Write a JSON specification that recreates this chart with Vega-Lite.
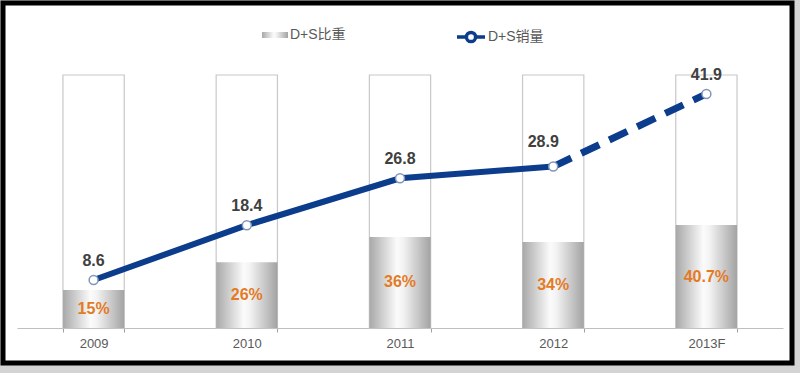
{
  "$schema": "https://vega.github.io/schema/vega-lite/v6.json",
  "width": 789,
  "height": 360,
  "autosize": {"type": "none"},
  "padding": {"left": 3, "top": 3, "right": 8, "bottom": 10},
  "background": "#d4d4d4",
  "config": {
    "view": {"stroke": "#000000", "strokeWidth": 5, "fill": "#ffffff"},
    "font": "Liberation Sans, Arial, Noto Sans CJK SC"
  },
  "data": {
    "values": [
      {"year": "2009", "share": 0.15, "sales": 8.6},
      {"year": "2010", "share": 0.26, "sales": 18.4},
      {"year": "2011", "share": 0.36, "sales": 26.8},
      {"year": "2012", "share": 0.34, "sales": 28.9},
      {"year": "2013F", "share": 0.407, "sales": 41.9}
    ]
  },
  "encoding": {
    "x": {
      "field": "year",
      "type": "nominal",
      "sort": null,
      "scale": {"range": [14, 780], "paddingInner": 0.6, "paddingOuter": 0.3},
      "axis": {
        "title": null,
        "labelAngle": 0,
        "offset": -35,
        "tickBand": "extent",
        "domainColor": "#bfbfbf",
        "tickColor": "#a0a0a0",
        "tickWidth": 1,
        "tickSize": 4,
        "labelColor": "#595959",
        "labelFontSize": 13,
        "labelPadding": 5
      }
    }
  },
  "layer": [
    {
      "layer": [
        {
          "mark": {"type": "bar", "fill": "#ffffff", "stroke": "#c8c8c8", "strokeWidth": 1.2},
          "encoding": {
            "y": {"datum": 1, "type": "quantitative", "scale": {"domain": [0, 1], "range": [325, 72]}, "axis": null}
          }
        },
        {
          "mark": {
            "type": "bar",
            "fill": {"gradient": "linear", "x1": 0, "x2": 1, "y1": 0, "y2": 0, "stops": [
              {"offset": 0, "color": "#a8a8a8"},
              {"offset": 0.45, "color": "#fbfbfb"},
              {"offset": 0.55, "color": "#f3f3f3"},
              {"offset": 1, "color": "#a3a3a3"}
            ]}
          },
          "encoding": {
            "y": {"field": "share", "type": "quantitative", "scale": {"domain": [0, 1], "range": [325, 72]}, "axis": null},
            "opacity": {
              "datum": "D+S比重",
              "scale": {"range": [1]},
              "legend": {
                "title": null,
                "orient": "none",
                "legendX": 259,
                "legendY": 19,
                "symbolType": "M-1,-0.23H1V0.23H-1Z",
                "symbolSize": 676,
                "symbolStrokeWidth": 0,
                "symbolFillColor": "#c4c4c4",
                "labelFontSize": 14,
                "labelColor": "#595959",
                "labelOffset": 2,
                "padding": 0,
                "encode": {
                  "symbols": {
                    "update": {
                      "fill": {"value": {"gradient": "linear", "x1": 0, "x2": 1, "y1": 0, "y2": 0, "stops": [
                        {"offset": 0, "color": "#a8a8a8"},
                        {"offset": 0.6, "color": "#f8f8f8"},
                        {"offset": 1, "color": "#c8c8c8"}
                      ]}},
                      "opacity": {"value": 1}
                    }
                  }
                }
              }
            }
          }
        },
        {
          "transform": [{"calculate": "datum.share / 2", "as": "mid"}],
          "mark": {"type": "text", "fontWeight": "bold", "fontSize": 16, "fill": "#e37b26"},
          "encoding": {
            "y": {"field": "mid", "type": "quantitative", "scale": {"domain": [0, 1], "range": [325, 72]}, "axis": null},
            "text": {"field": "share", "type": "quantitative", "format": ".1~%"}
          }
        }
      ]
    },
    {
      "layer": [
        {
          "transform": [{"filter": "datum.year != '2013F'"}],
          "mark": {"type": "line", "strokeWidth": 6},
          "encoding": {
            "y": {"field": "sales", "type": "quantitative", "scale": {"domain": [0, 45.29], "range": [325, 72]}, "axis": null},
            "stroke": {
              "datum": "D+S销量",
              "scale": {"range": ["#0b3d8c"]},
              "legend": {
                "title": null,
                "orient": "none",
                "legendX": 452,
                "legendY": 18,
                "symbolType": "M-1,0H-0.33M0.33,0H1M-0.33,0A0.33,0.33,0,1,1,0.33,0A0.33,0.33,0,1,1,-0.33,0",
                "symbolSize": 784,
                "symbolStrokeWidth": 3.5,
                "symbolFillColor": "#ffffff",
                "labelFontSize": 14,
                "labelColor": "#595959",
                "labelOffset": 1,
                "padding": 0
              }
            }
          }
        },
        {
          "transform": [{"filter": "datum.year == '2012' || datum.year == '2013F'"}],
          "mark": {"type": "line", "strokeWidth": 7, "strokeDash": [20, 11], "stroke": "#0b3d8c"},
          "encoding": {
            "y": {"field": "sales", "type": "quantitative", "scale": {"domain": [0, 45.29], "range": [325, 72]}, "axis": null}
          }
        },
        {
          "mark": {"type": "point", "filled": true, "fill": "#ffffff", "stroke": "#8296b8", "strokeWidth": 1.5, "size": 80, "opacity": 1},
          "encoding": {
            "y": {"field": "sales", "type": "quantitative", "scale": {"domain": [0, 45.29], "range": [325, 72]}, "axis": null}
          }
        },
        {
          "transform": [{"filter": "datum.year != '2012'"}],
          "mark": {"type": "text", "fontWeight": "bold", "fontSize": 16, "fill": "#404040", "dy": -19},
          "encoding": {
            "y": {"field": "sales", "type": "quantitative", "scale": {"domain": [0, 45.29], "range": [325, 72]}, "axis": null},
            "text": {"field": "sales", "type": "quantitative", "format": ".1f"}
          }
        },
        {
          "transform": [{"filter": "datum.year == '2012'"}],
          "mark": {"type": "text", "fontWeight": "bold", "fontSize": 16, "fill": "#404040", "dx": -10, "dy": -25},
          "encoding": {
            "y": {"field": "sales", "type": "quantitative", "scale": {"domain": [0, 45.29], "range": [325, 72]}, "axis": null},
            "text": {"field": "sales", "type": "quantitative", "format": ".1f"}
          }
        }
      ]
    }
  ],
  "resolve": {"scale": {"y": "independent"}}
}
